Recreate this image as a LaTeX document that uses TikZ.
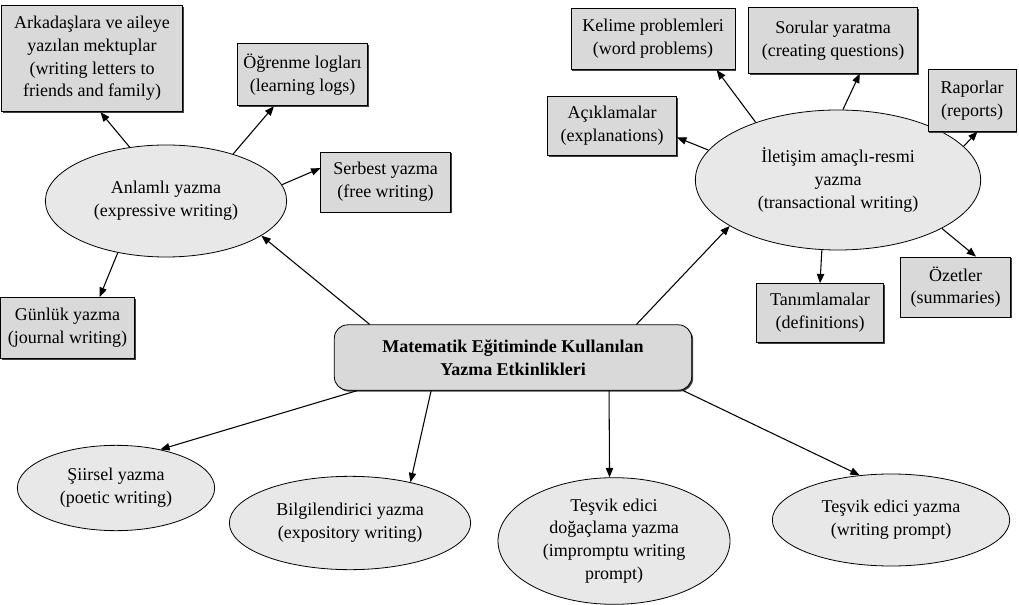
\documentclass[tikz,border=0pt]{standalone}
\usepackage{fontspec}
\setmainfont{Liberation Serif}
\usetikzlibrary{shapes.geometric,arrows.meta,shadows}
\begin{document}
\begin{tikzpicture}[x=0.75pt, y=-0.75pt, every node/.style={draw=black, line width=0.6pt, align=center, inner sep=0pt, font=\fontsize{13.5}{17}\selectfont}, kutu/.style={rectangle, fill=black!15, drop shadow={shadow xshift=1.1pt, shadow yshift=-1.1pt, fill=black!75, opacity=1}}, elips/.style={ellipse, fill=black!9}, ok/.style={-{Triangle[length=7pt, width=5.5pt]}, line width=0.8pt}]
	\useasboundingbox (0,0) rectangle (1019,605);
	\node[kutu, rounded corners=10pt, minimum width=268pt, minimum height=49pt, font=\fontsize{13.5}{17}\selectfont\bfseries](M) at (513,357.5){Matematik Eğitiminde Kullanılan\\Yazma Etkinlikleri};
	\node[elips, minimum width=181pt, minimum height=84pt](A) at (166,201){Anlamlı yazma\\(expressive writing)};
	\node[elips, minimum width=214pt, minimum height=105pt](B) at (838,180){İletişim amaçlı-resmi\\yazma\\(transactional writing)};
	\node[elips, minimum width=148pt, minimum height=64pt](C) at (116,488){Şiirsel yazma\\(poetic writing)};
	\node[elips, minimum width=181pt, minimum height=70pt](D) at (350,523){Bilgilendirici yazma\\(expository writing)};
	\node[elips, minimum width=174pt, minimum height=95pt](E) at (614,541){Teşvik edici\\doğaçlama yazma\\(impromptu writing\\prompt)};
	\node[elips, minimum width=178pt, minimum height=69pt](F) at (891,520){Teşvik edici yazma\\(writing prompt)};
	\node[kutu, minimum width=136pt, minimum height=80pt](ark) at (92,58.5){Arkadaşlara ve aileye\\yazılan mektuplar\\(writing letters to\\friends and family)};
	\node[kutu, minimum width=97pt, minimum height=47pt](ogr) at (302.5,74.5){Öğrenme logları\\(learning logs)};
	\node[kutu, minimum width=97pt, minimum height=45pt](serb) at (385.5,182){Serbest yazma\\(free writing)};
	\node[kutu, minimum width=101pt, minimum height=46pt](gun) at (67.5,328){Günlük yazma\\(journal writing)};
	\node[kutu, minimum width=123pt, minimum height=46pt](kel) at (653,39){Kelime problemleri\\(word problems)};
	\node[kutu, minimum width=127pt, minimum height=49pt](sor) at (833,40.5){Sorular yaratma\\(creating questions)};
	\node[kutu, minimum width=97pt, minimum height=44pt](acik) at (612,126){Açıklamalar\\(explanations)};
	\node[kutu, minimum width=66pt, minimum height=46pt](rap) at (972,100.5){Raporlar\\(reports)};
	\node[kutu, minimum width=82pt, minimum height=45pt](oz) at (955.5,287){Özetler\\(summaries)};
	\node[kutu, minimum width=95pt, minimum height=44pt](tan) at (820,313){Tanımlamalar\\(definitions)};
	\draw[ok] (M.167) -- (A.-20);
	\draw[ok] (M.15) -- (B.-157);
	\draw[ok] (M.-168) -- (C.41);
	\draw[ok] (M.-158) -- (D.34);
	\draw[ok] (M.-19.5) -- (E.94);
	\draw[ok] (M.-11.7) -- (F.125);
	\draw[ok] (A.124) -- (ark.-81);
	\draw[ok] (A.35) -- (ogr.-132);
	\draw[ok] (A.8) -- (serb.168);
	\draw[ok] (A.-133) -- (gun.44);
	\draw[ok] (B.145) -- (kel.-26);
	\draw[ok] (B.86) -- (sor.-51);
	\draw[ok] (B.167) -- (acik.-10);
	\draw[ok] (B.15) -- (rap.-80);
	\draw[ok] (B.-25) -- (oz.56);
	\draw[ok] (B.-103) -- (tan.north);
\end{tikzpicture}
\end{document}
